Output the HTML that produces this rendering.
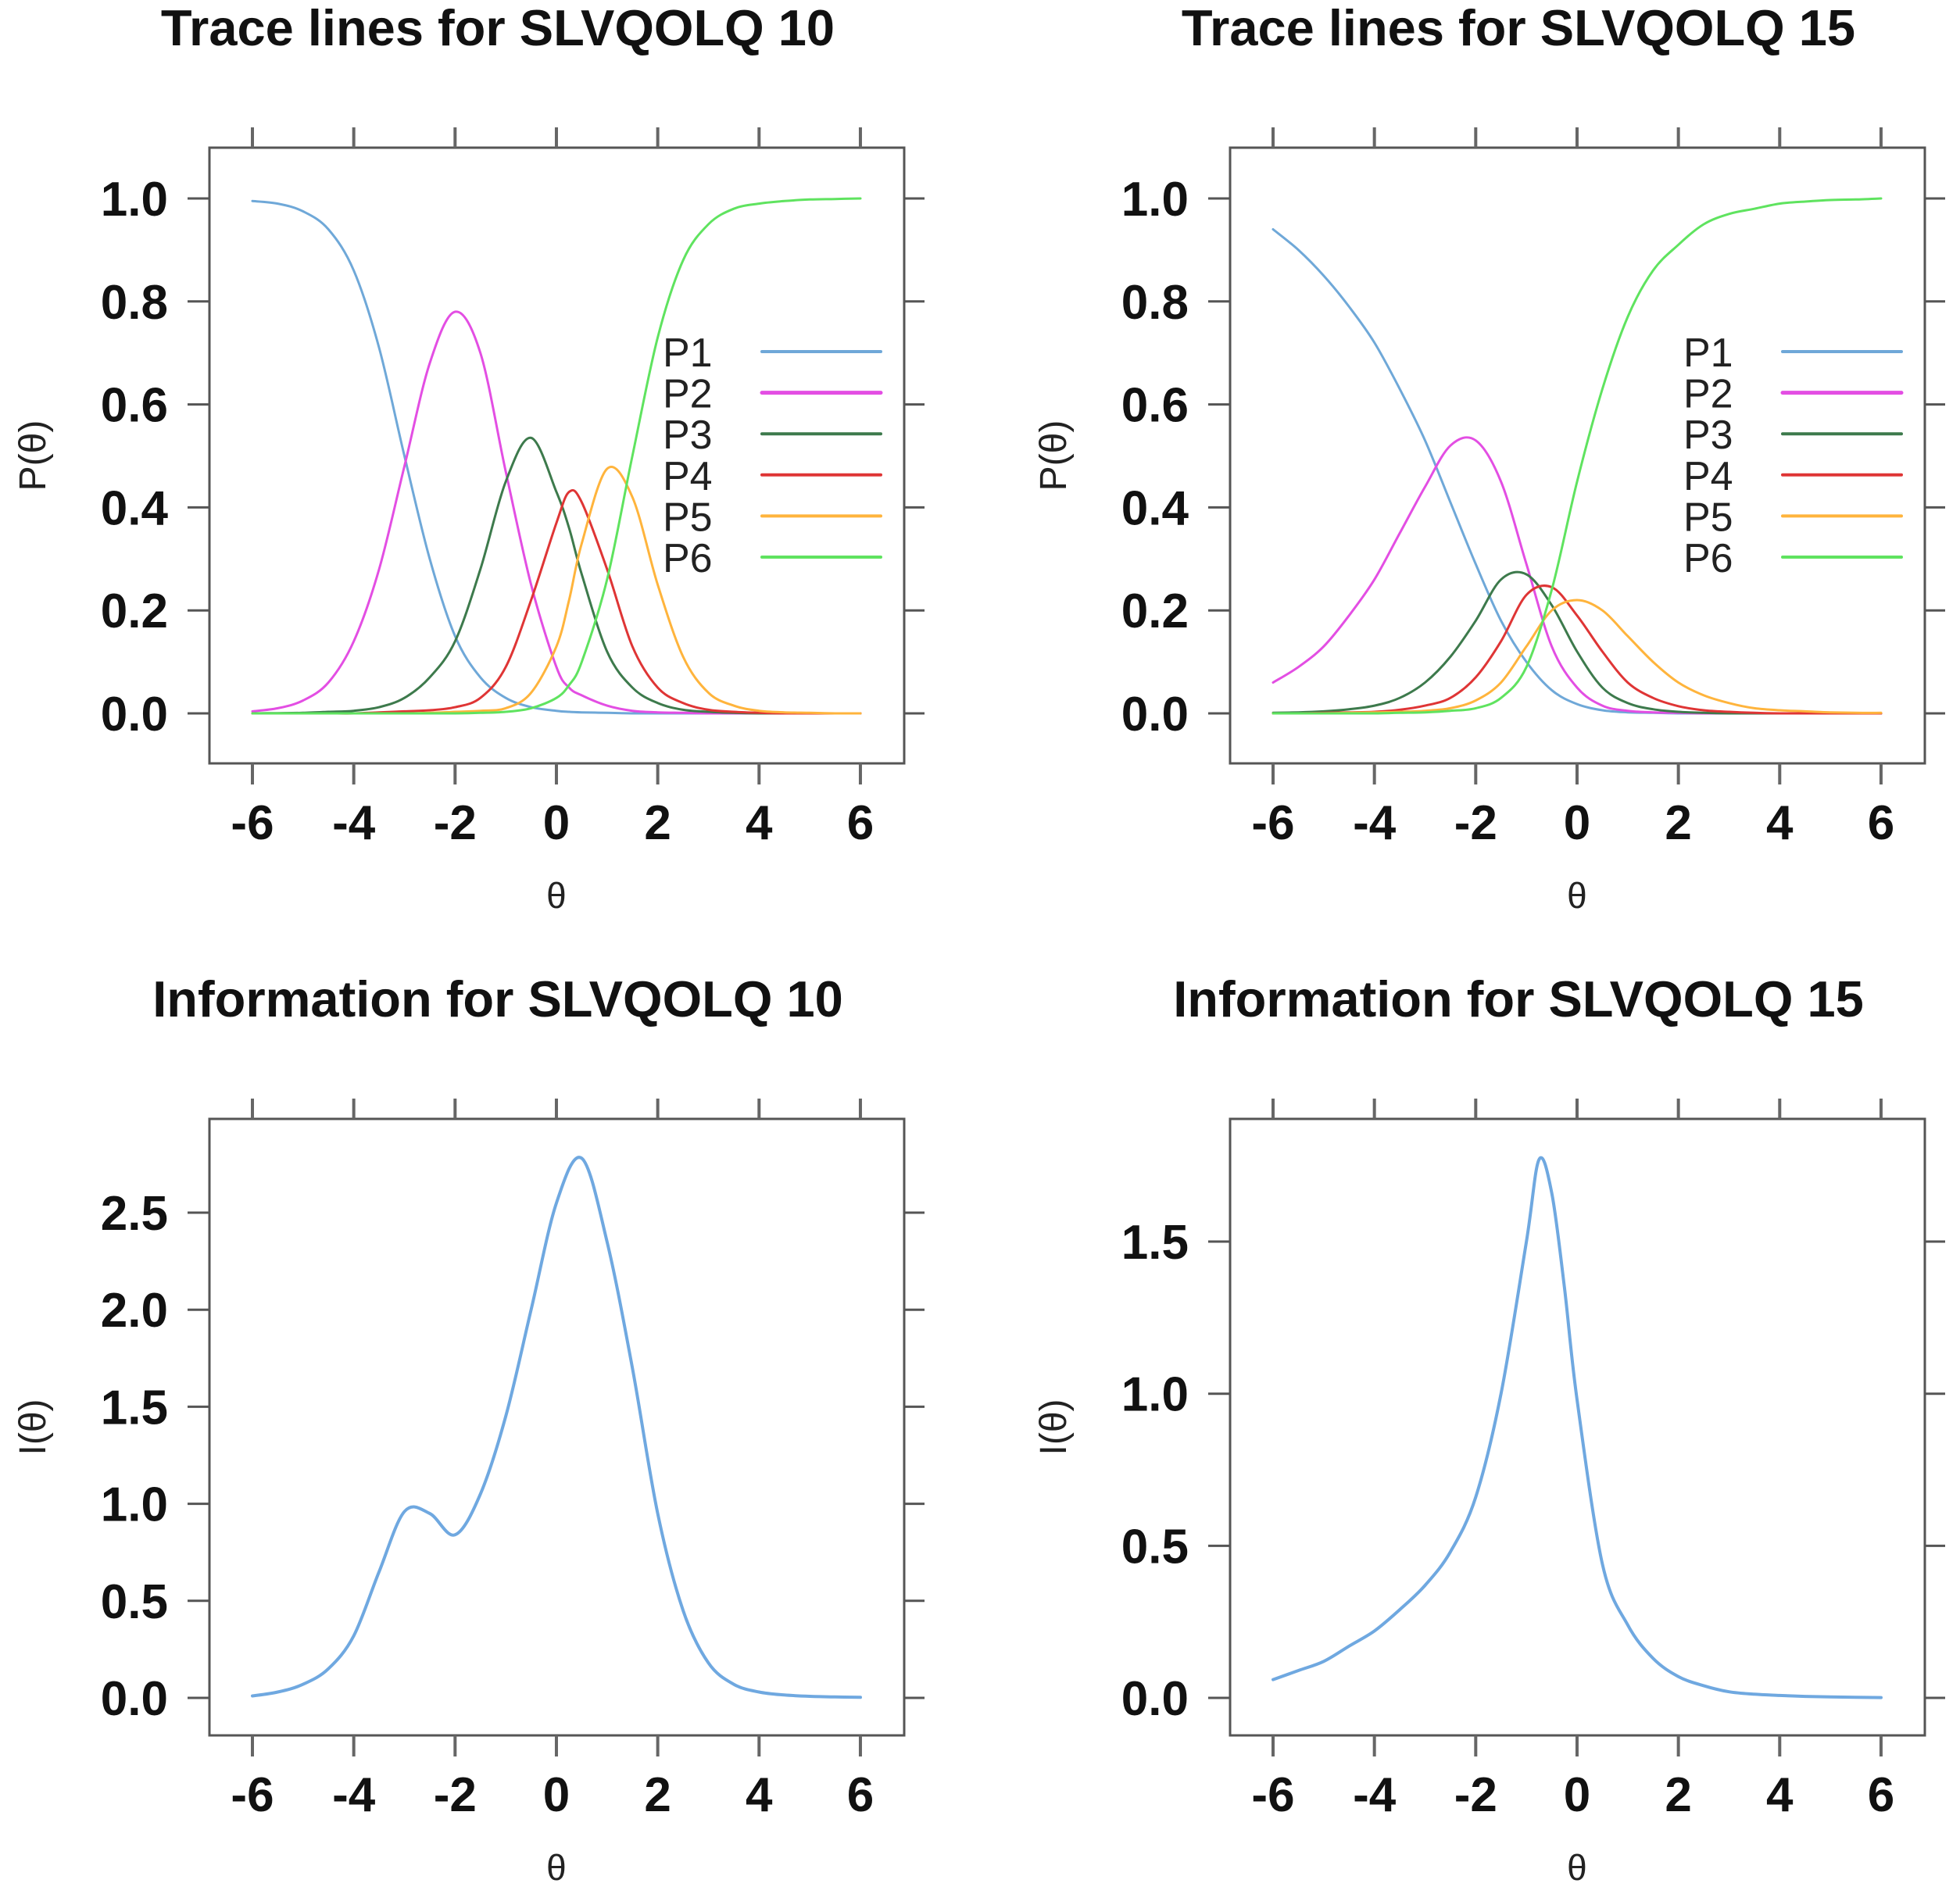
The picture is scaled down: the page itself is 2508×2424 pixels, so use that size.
<!DOCTYPE html>
<html><head><meta charset="utf-8"><style>
html,body{margin:0;padding:0;background:#fff;}
svg{display:block;}
text{font-family:"Liberation Sans",sans-serif;}
</style></head><body>
<svg id="fig" width="2508" height="2424" viewBox="0 0 2508 2424" xmlns="http://www.w3.org/2000/svg"></svg>
<script>
// ---- data ----
const thetaTrace10 = [-6,-5.5,-5,-4.5,-4,-3.5,-3,-2.5,-2,-1.5,-1,-0.5,0,0.25,0.5,1,1.5,2,2.5,3,3.5,4,4.5,5,5.5,6];
const p1_10 = [0.995,0.99,0.975,0.94,0.86,0.71,0.5,0.3,0.15,0.07,0.03,0.012,0.005,0.003,0.002,0.001,0,0,0,0,0,0,0,0,0,0];
const p2_10 = [0.004,0.01,0.025,0.06,0.14,0.28,0.48,0.68,0.78,0.7,0.47,0.25,0.09,0.05,0.035,0.015,0.005,0.002,0.001,0,0,0,0,0,0,0];
const p3_10 = [0,0.0005,0.001,0.003,0.005,0.012,0.03,0.07,0.14,0.28,0.45,0.535,0.43,0.36,0.27,0.12,0.05,0.02,0.007,0.003,0.001,0,0,0,0,0];
const p4_10 = [0,0,0,0,0,0.002,0.004,0.006,0.012,0.03,0.09,0.22,0.37,0.43,0.41,0.28,0.13,0.05,0.02,0.007,0.003,0.001,0,0,0,0];
const p5_10 = [0,0,0,0,0,0,0,0.001,0.003,0.005,0.01,0.04,0.13,0.22,0.33,0.475,0.42,0.25,0.11,0.04,0.015,0.005,0.002,0.001,0,0];
const p6_10 = [0,0,0,0,0,0,0,0,0,0.001,0.003,0.01,0.03,0.055,0.1,0.26,0.5,0.73,0.88,0.95,0.98,0.99,0.995,0.998,0.999,1.0];

const thetaTrace15 = [-6,-5.5,-5,-4.5,-4,-3.5,-3,-2.5,-2,-1.5,-1,-0.5,0,0.5,1,1.5,2,2.5,3,3.5,4,4.5,5,5.5,6];
const p1_15 = [0.94,0.9,0.85,0.79,0.72,0.63,0.53,0.41,0.29,0.18,0.1,0.045,0.018,0.006,0.002,0.001,0,0,0,0,0,0,0,0,0];
const p2_15 = [0.06,0.09,0.13,0.19,0.26,0.35,0.44,0.52,0.53,0.45,0.29,0.13,0.05,0.015,0.005,0.002,0.001,0,0,0,0,0,0,0,0];
const p3_15 = [0.001,0.002,0.004,0.008,0.015,0.03,0.06,0.11,0.18,0.26,0.27,0.21,0.12,0.05,0.02,0.008,0.003,0.001,0,0,0,0,0,0,0];
const p4_15 = [0,0,0.001,0.002,0.003,0.007,0.015,0.03,0.07,0.14,0.23,0.245,0.19,0.12,0.06,0.03,0.014,0.006,0.003,0.001,0,0,0,0,0];
const p5_15 = [0,0,0,0.001,0.002,0.003,0.005,0.01,0.025,0.06,0.13,0.2,0.22,0.2,0.15,0.1,0.06,0.035,0.02,0.01,0.006,0.004,0.002,0.001,0.001];
const p6_15 = [0,0,0,0,0,0.001,0.002,0.005,0.01,0.03,0.09,0.24,0.45,0.63,0.77,0.86,0.91,0.95,0.97,0.98,0.99,0.994,0.997,0.998,1.0];

const thetaInfo10 = [-6,-5.5,-5,-4.5,-4,-3.5,-3,-2.5,-2,-1.5,-1,-0.5,0,0.5,1,1.5,2,2.5,3,3.5,4,4.5,5,5.5,6];
const info10 = [0.01,0.03,0.07,0.15,0.32,0.65,0.96,0.95,0.84,1.05,1.45,2.0,2.55,2.78,2.35,1.7,0.95,0.45,0.18,0.07,0.03,0.015,0.008,0.005,0.003];

const thetaInfo15 = [-6,-5.5,-5,-4.5,-4,-3.5,-3,-2.5,-2,-1.5,-1,-0.75,-0.5,-0.25,0,0.5,1,1.5,2,2.5,3,3.5,4,4.5,5,5.5,6];
const info15 = [0.06,0.09,0.12,0.17,0.22,0.29,0.37,0.48,0.66,1.0,1.5,1.77,1.66,1.35,0.98,0.44,0.24,0.13,0.07,0.04,0.02,0.012,0.008,0.005,0.003,0.002,0.001];

const xTicks = [-6,-4,-2,0,2,4,6];
const yTicksTrace = [0,0.2,0.4,0.6,0.8,1.0];
const yTicksInfo10 = [0,0.5,1.0,1.5,2.0,2.5];
const yTicksInfo15 = [0,0.5,1.0,1.5];
const legendLabels = ["P1","P2","P3","P4","P5","P6"];
const seriesColors = ["#6fa8d8","#e34ee3","#3d7a4c","#df3535","#ffb43c","#5fe35f"];

// ---- drawing ----
const NS = "http://www.w3.org/2000/svg";
const svg = document.getElementById('fig');
function el(tag, attrs, parent){const e=document.createElementNS(NS,tag);for(const k in attrs)e.setAttribute(k,attrs[k]);(parent||svg).appendChild(e);return e;}
function smoothPath(pts){
  let d="M"+pts[0][0].toFixed(1)+","+pts[0][1].toFixed(1);
  for(let i=0;i<pts.length-1;i++){
    const p0=pts[Math.max(0,i-1)],p1=pts[i],p2=pts[i+1],p3=pts[Math.min(pts.length-1,i+2)];
    const c1=[p1[0]+(p2[0]-p0[0])/6,p1[1]+(p2[1]-p0[1])/6];
    const c2=[p2[0]-(p3[0]-p1[0])/6,p2[1]-(p3[1]-p1[1])/6];
    d+=" C"+c1[0].toFixed(1)+","+c1[1].toFixed(1)+" "+c2[0].toFixed(1)+","+c2[1].toFixed(1)+" "+p2[0].toFixed(1)+","+p2[1].toFixed(1);
  }
  return d;
}

function panel(cfg){
  const g=el('g',{});
  
  
  const ox=cfg.ox, oy=cfg.oy;
  const X=v=>ox+323+(v+6)*64.83;
  const Y=v=>oy+cfg.y0-v*cfg.ypu;
  const L=ox+268,R=ox+1157,T=oy+189,B=oy+cfg.bottom;
  // title
  const t=el('text',{x:ox+637,y:oy+58,'text-anchor':'middle','font-size':65,'font-weight':'bold',fill:'#111'},g);
  t.textContent=cfg.title;
  
  
  // box
  const box=el('rect',{x:L,y:T,width:R-L,height:B-T,fill:'none',stroke:'#555','stroke-width':3},g);
  
  
  // x ticks
  xTicks.forEach(v=>{
    const x=X(v);
    el('line',{x1:x,y1:T-26,x2:x,y2:T,stroke:'#666','stroke-width':4},g);
    el('line',{x1:x,y1:B,x2:x,y2:B+27,stroke:'#666','stroke-width':4},g);
    const tl=el('text',{x:x,y:B+97,'text-anchor':'middle','font-size':62,'font-weight':'bold',fill:'#111'},g);
    tl.textContent=String(v);
    
    
  });
  cfg.yTicks.forEach(v=>{
    const y=Y(v);
    el('line',{x1:L-28,y1:y,x2:L,y2:y,stroke:'#555','stroke-width':3},g);
    el('line',{x1:R,y1:y,x2:R+26,y2:y,stroke:'#555','stroke-width':3},g);
    const tl=el('text',{x:ox+215,y:y+22,'text-anchor':'end','font-size':62,'font-weight':'bold',fill:'#111'},g);
    tl.textContent=v.toFixed(1);
    
    
  });
  // axis titles
  const xt=el('text',{x:X(0),y:B+185,'text-anchor':'middle','font-size':46,fill:'#222','font-family':'Liberation Serif, serif'},g);
  xt.textContent='θ';
  
  
  const cy=(T+B)/2;
  const yt=el('text',{x:ox+58,y:cy,'text-anchor':'middle','font-size':48,fill:'#222',transform:'rotate(-90 '+(ox+58)+' '+cy+')'},g);
  yt.textContent=cfg.ylab;
  
  
  // series
  cfg.series.forEach((s,i)=>{
    const pts=cfg.theta.map((th,j)=>[X(th),Y(s[j])]);
    const p=el('path',{d:smoothPath(pts),fill:'none',stroke:cfg.colors[i],'stroke-width':cfg.sw,'stroke-linejoin':'round','stroke-linecap':'round'},g);
    
    
  });
  // legend
  if(cfg.legend){
    legendLabels.forEach((lab,i)=>{
      const y=oy+450+i*52.6;
      const lt=el('text',{x:ox+848,y:y+19,'font-size':52,fill:'#222'},g);
      lt.textContent=lab;
      
      
      const ll=el('line',{x1:ox+975,y1:y,x2:ox+1127,y2:y,stroke:seriesColors[i],'stroke-width':i===1?5:4,'stroke-linecap':'round'},g);
      
      
    });
  }
}

panel({name:'trace-lines-10',title:'Trace lines for SLVQOLQ 10',ox:0,oy:0,y0:913,ypu:659,bottom:977,
  yTicks:yTicksTrace,ylab:'P(θ)',theta:thetaTrace10,series:[p1_10,p2_10,p3_10,p4_10,p5_10,p6_10],
  colors:seriesColors,sw:3,legend:true,seriesNames:['curve-p1','curve-p2','curve-p3','curve-p4','curve-p5','curve-p6']});
panel({name:'trace-lines-15',title:'Trace lines for SLVQOLQ 15',ox:1306,oy:0,y0:913,ypu:659,bottom:977,
  yTicks:yTicksTrace,ylab:'P(θ)',theta:thetaTrace15,series:[p1_15,p2_15,p3_15,p4_15,p5_15,p6_15],
  colors:seriesColors,sw:3,legend:true,seriesNames:['curve-p1','curve-p2','curve-p3','curve-p4','curve-p5','curve-p6']});
panel({name:'information-10',title:'Information for SLVQOLQ 10',ox:0,oy:1243,y0:930,ypu:248.4,bottom:978,
  yTicks:yTicksInfo10,ylab:'I(θ)',theta:thetaInfo10,series:[info10],
  colors:['#6fa8e0'],sw:4,legend:false,seriesNames:['information-curve']});
panel({name:'information-15',title:'Information for SLVQOLQ 15',ox:1306,oy:1243,y0:930,ypu:389.3,bottom:978,
  yTicks:yTicksInfo15,ylab:'I(θ)',theta:thetaInfo15,series:[info15],
  colors:['#6fa8e0'],sw:4,legend:false,seriesNames:['information-curve']});
</script>
</body></html>
